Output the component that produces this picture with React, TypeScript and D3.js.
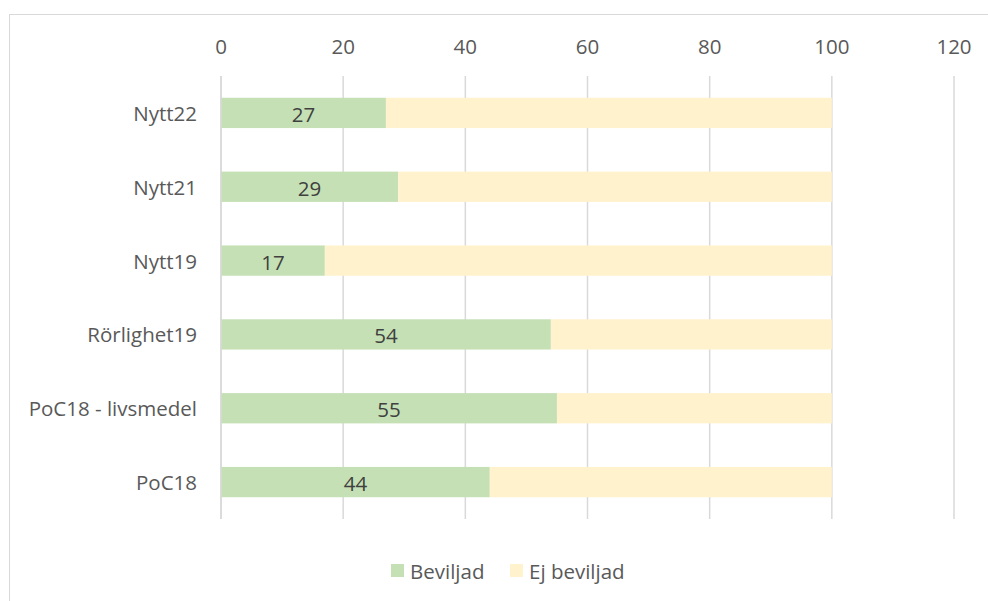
import React from "react";
import * as d3 from "d3";

const categories = ["Nytt22", "Nytt21", "Nytt19", "Rörlighet19", "PoC18 - livsmedel", "PoC18"];
const beviljad = [27, 29, 17, 54, 55, 44];
const ejBeviljad = [73, 71, 83, 46, 45, 56];
const xTicks = [0, 20, 40, 60, 80, 100, 120];
const seriesNames = ["Beviljad", "Ej beviljad"];
const seriesColors = ["#c5e0b4", "#fff2cc"];

const W = 988;
const H = 601;
const FONT = "'Open Sans', sans-serif";
const FS = 20.5;

export default function App() {
  const x = d3.scaleLinear().domain([0, 120]).range([221, 954]);
  const y = d3.scaleBand<string>().domain(categories).range([76, 519]).paddingInner(0.59).paddingOuter(0.295);
  const bw = y.bandwidth();

  return (
    <svg width={W} height={H} style={{ position: "absolute", left: 0, top: 0, background: "#fff" }} fontFamily={FONT}>
      <rect x={9.5} y={14.5} width={1100} height={700} fill="none" stroke="#d9d9d9" strokeWidth={1} />
      {xTicks.map((t) => (
        <g key={t}>
          <line x1={x(t)} x2={x(t)} y1={76} y2={519} stroke="#d9d9d9" strokeWidth={1.5} />
          <text x={x(t)} y={46} textAnchor="middle" dominantBaseline="central" fontSize={FS} fill="#595959">
            {t}
          </text>
        </g>
      ))}
      {categories.map((c, i) => {
        const y0 = y(c)!;
        return (
          <g key={c}>
            <rect x={x(0)} y={y0} width={x(beviljad[i]) - x(0)} height={bw} fill={seriesColors[0]} />
            <rect
              x={x(beviljad[i])}
              y={y0}
              width={x(beviljad[i] + ejBeviljad[i]) - x(beviljad[i])}
              height={bw}
              fill={seriesColors[1]}
            />
            <text
              x={(x(0) + x(beviljad[i])) / 2}
              y={y0 + bw / 2 + 1}
              textAnchor="middle"
              dominantBaseline="central"
              fontSize={FS}
              fill="#404040"
            >
              {beviljad[i]}
            </text>
            <text x={197} y={y0 + bw / 2} textAnchor="end" dominantBaseline="central" fontSize={FS} fill="#595959">
              {c}
            </text>
          </g>
        );
      })}
      <line x1={x(0)} x2={x(0)} y1={76} y2={519} stroke="#d9d9d9" strokeWidth={1.5} />
      {seriesNames.map((s, i) => {
        const lx = i === 0 ? 391 : 510;
        return (
          <g key={s}>
            <rect x={lx} y={564} width={13} height={13} fill={seriesColors[i]} />
            <text x={lx + 19} y={571} dominantBaseline="central" fontSize={FS} fill="#595959">
              {s}
            </text>
          </g>
        );
      })}
    </svg>
  );
}
